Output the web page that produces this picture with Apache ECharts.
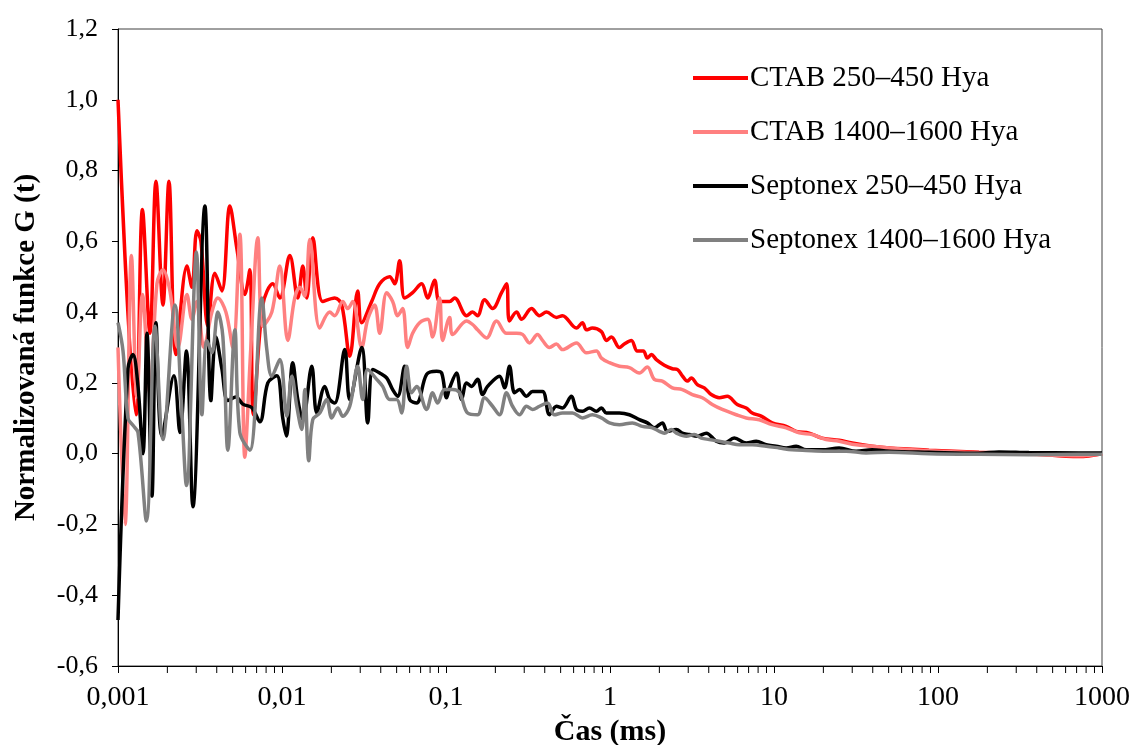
<!DOCTYPE html>
<html><head><meta charset="utf-8">
<script src="https://cdn.jsdelivr.net/npm/echarts@6/dist/echarts.min.js"></script>
<style>html,body{margin:0;padding:0;background:#fff}#c{width:1134px;height:745px}</style>
</head><body><div id="c"></div><script>
const seriesNames = ['CTAB 250–450 Hya', 'CTAB 1400–1600 Hya', 'Septonex 250–450 Hya', 'Septonex 1400–1600 Hya'];
const seriesColors = ['#ff0000', '#ff8080', '#000000', '#808080'];

// [time (ms), G(t)]
const ctab250 = [[0.001,1.00],[0.001287,0.11],[0.00141,0.69],[0.001566,0.34],[0.001704,0.77],[0.00188,0.42],[0.002044,0.77],[0.002256,0.28],[0.002633,0.53],[0.002823,0.47],[0.003028,0.63],[0.003203,0.60],[0.003533,0.36],[0.003898,0.51],[0.004299,0.46],[0.004809,0.70],[0.005305,0.58],[0.005935,0.45],[0.006366,0.52],[0.006686,0.11],[0.00764,0.42],[0.00879,0.48],[0.009697,0.44],[0.01116,0.56],[0.01248,0.44],[0.01339,0.53],[0.01416,0.44],[0.0154,0.61],[0.01772,0.43],[0.02097,0.44],[0.02313,0.42],[0.02589,0.275],[0.02895,0.46],[0.03062,0.37],[0.03523,0.43],[0.03942,0.48],[0.04534,0.50],[0.04863,0.48],[0.05217,0.545],[0.05595,0.44],[0.0626,0.455],[0.07102,0.48],[0.07726,0.44],[0.08522,0.49],[0.09142,0.43],[0.1052,0.43],[0.1129,0.44],[0.1335,0.39],[0.1452,0.40],[0.1558,0.39],[0.1719,0.435],[0.1923,0.41],[0.2181,0.455],[0.234,0.48],[0.244,0.375],[0.2692,0.40],[0.2887,0.38],[0.3322,0.41],[0.3716,0.39],[0.4099,0.40],[0.4716,0.385],[0.513,0.39],[0.6243,0.355],[0.6791,0.37],[0.7183,0.35],[0.7813,0.355],[0.8865,0.345],[0.9508,0.32],[1.020,0.33],[1.141,0.30],[1.223,0.31],[1.350,0.32],[1.467,0.29],[1.596,0.29],[1.690,0.27],[1.787,0.28],[1.917,0.266],[2.144,0.25],[2.399,0.24],[2.574,0.238],[2.760,0.22],[2.961,0.205],[3.132,0.214],[3.407,0.195],[3.758,0.186],[4.144,0.167],[4.637,0.158],[5.188,0.162],[5.968,0.139],[6.771,0.129],[7.366,0.115],[8.356,0.106],[9.751,0.087],[11.87,0.077],[13.65,0.063],[16.39,0.058],[19.66,0.044],[24.96,0.038],[29.94,0.030],[39.64,0.021],[50.3,0.016],[88.15,0.01],[177.7,0.004],[358.3,0.0],[722.3,-0.008],[1000,0.0]];

const ctab1400 = [[0.001,0.30],[0.001104,-0.20],[0.001208,0.56],[0.001305,0.16],[0.00141,0.45],[0.001566,0.17],[0.001728,0.48],[0.00188,0.52],[0.002073,0.46],[0.00232,0.30],[0.002633,0.45],[0.002823,0.38],[0.003028,0.43],[0.00334,0.30],[0.003737,0.40],[0.004064,0.44],[0.004548,0.40],[0.005016,0.30],[0.005533,0.62],[0.005935,-0.01],[0.006456,0.30],[0.007122,0.61],[0.00764,0.36],[0.008667,0.40],[0.009697,0.53],[0.01085,0.32],[0.01196,0.44],[0.01283,0.47],[0.01377,0.445],[0.01477,0.605],[0.01699,0.355],[0.01955,0.40],[0.02097,0.39],[0.02346,0.43],[0.02517,0.41],[0.02699,0.43],[0.03062,0.30],[0.03331,0.38],[0.03674,0.42],[0.03942,0.34],[0.04347,0.455],[0.04729,0.43],[0.05073,0.39],[0.05441,0.41],[0.05836,0.30],[0.0626,0.34],[0.06906,0.37],[0.07726,0.38],[0.08287,0.33],[0.09142,0.44],[0.09535,0.32],[0.1052,0.385],[0.1097,0.337],[0.1335,0.375],[0.1452,0.365],[0.1558,0.35],[0.1767,0.327],[0.2033,0.375],[0.234,0.34],[0.2692,0.34],[0.2928,0.337],[0.323,0.313],[0.3613,0.337],[0.3876,0.32],[0.4275,0.30],[0.4716,0.31],[0.513,0.294],[0.6243,0.313],[0.7183,0.285],[0.8264,0.29],[0.8865,0.27],[0.9917,0.257],[1.141,0.247],[1.313,0.243],[1.510,0.228],[1.690,0.245],[1.863,0.21],[2.085,0.205],[2.399,0.186],[2.760,0.181],[3.176,0.167],[3.654,0.158],[4.203,0.139],[4.836,0.125],[5.885,0.110],[6.771,0.101],[8.126,0.096],[9.751,0.082],[11.87,0.073],[14.24,0.059],[17.09,0.054],[20.79,0.040],[24.96,0.035],[31.67,0.025],[39.64,0.021],[50.3,0.016],[88.15,0.008],[177.7,0.002],[358.3,-0.002],[722.3,-0.006],[1000,0.0]];

const septonex250 = [[0.001,-0.47],[0.00115,0.24],[0.001234,0.28],[0.001324,0.19],[0.00142,0.0],[0.001502,0.34],[0.001611,-0.12],[0.001704,0.37],[0.001853,0.05],[0.002194,0.22],[0.002386,0.06],[0.002614,0.29],[0.002863,-0.15],[0.003388,0.70],[0.003685,0.15],[0.003953,0.33],[0.004299,0.24],[0.004676,0.15],[0.005232,0.16],[0.005771,0.14],[0.006547,0.13],[0.007325,0.09],[0.008194,0.20],[0.009297,0.22],[0.01011,0.10],[0.01062,0.05],[0.01163,0.257],[0.01248,0.153],[0.01339,0.096],[0.01519,0.247],[0.01629,0.115],[0.01822,0.19],[0.01955,0.153],[0.02097,0.143],[0.02413,0.294],[0.02589,0.153],[0.03062,0.30],[0.03331,0.087],[0.03573,0.238],[0.03942,0.228],[0.04347,0.214],[0.04729,0.181],[0.05073,0.162],[0.05595,0.247],[0.06002,0.153],[0.06622,0.143],[0.07618,0.224],[0.08765,0.233],[0.09403,0.228],[0.1008,0.158],[0.1052,0.186],[0.116,0.228],[0.1245,0.153],[0.1335,0.20],[0.1432,0.19],[0.1558,0.21],[0.1671,0.167],[0.1792,0.19],[0.212,0.219],[0.2275,0.186],[0.244,0.247],[0.2618,0.172],[0.2807,0.181],[0.3097,0.162],[0.3369,0.176],[0.3876,0.176],[0.4275,0.11],[0.4716,0.134],[0.513,0.129],[0.582,0.162],[0.6243,0.125],[0.6791,0.12],[0.7491,0.129],[0.8264,0.12],[0.8865,0.129],[0.9508,0.115],[1.141,0.115],[1.313,0.11],[1.510,0.096],[1.690,0.087],[1.863,0.073],[2.085,0.087],[2.237,0.063],[2.538,0.068],[2.760,0.058],[3.045,0.054],[3.407,0.049],[3.865,0.058],[4.446,0.035],[4.973,0.030],[5.722,0.044],[6.771,0.030],[7.791,0.035],[8.964,0.025],[10.31,0.021],[11.87,0.016],[13.65,0.021],[15.71,0.011],[19.66,0.011],[24.96,0.016],[31.67,0.007],[39.64,0.011],[50.3,0.007],[88.15,0.004],[177.7,0.001],[235.3,0.005],[358.3,0.003],[722.3,0.002],[1000,0.002]];

const septonex1400 = [[0.001,0.37],[0.001073,0.29],[0.00115,0.10],[0.001234,0.08],[0.001324,0.06],[0.001491,-0.19],[0.001681,0.36],[0.00188,0.04],[0.002225,0.42],[0.002437,0.14],[0.002614,-0.09],[0.003007,0.57],[0.003248,0.11],[0.003484,0.32],[0.003737,0.285],[0.004064,0.40],[0.00436,0.33],[0.004676,0.01],[0.005159,0.35],[0.005533,0.06],[0.006366,0.01],[0.007533,0.44],[0.008081,0.294],[0.008667,0.219],[0.009697,0.266],[0.0107,0.106],[0.01148,0.219],[0.0123,0.134],[0.0132,0.068],[0.01377,0.181],[0.01456,-0.02],[0.0154,0.096],[0.01699,0.115],[0.01874,0.153],[0.02011,0.101],[0.02187,0.129],[0.02346,0.106],[0.02589,0.134],[0.02895,0.247],[0.03106,0.153],[0.03331,0.238],[0.03779,0.21],[0.0411,0.19],[0.04534,0.153],[0.05002,0.153],[0.05366,0.115],[0.05755,0.247],[0.06173,0.172],[0.06622,0.19],[0.07618,0.125],[0.08287,0.172],[0.08889,0.143],[0.09805,0.181],[0.1097,0.181],[0.121,0.172],[0.1354,0.115],[0.1558,0.11],[0.1719,0.158],[0.1923,0.134],[0.212,0.11],[0.234,0.172],[0.2545,0.134],[0.2807,0.11],[0.3097,0.134],[0.3369,0.125],[0.3716,0.134],[0.4156,0.143],[0.4586,0.11],[0.513,0.115],[0.5902,0.115],[0.6791,0.101],[0.7813,0.11],[0.8865,0.101],[0.9917,0.087],[1.141,0.082],[1.369,0.087],[1.575,0.077],[1.812,0.073],[2.000,0.063],[2.144,0.058],[2.366,0.068],[2.538,0.058],[2.920,0.049],[3.266,0.054],[3.603,0.044],[4.031,0.040],[4.637,0.035],[5.335,0.030],[6.138,0.025],[7.366,0.025],[8.964,0.021],[10.76,0.016],[12.91,0.011],[15.71,0.009],[20.79,0.007],[27.53,0.007],[36.44,0.002],[50.3,0.004],[88.15,0.0],[177.7,-0.002],[358.3,-0.003],[722.3,-0.002],[1000,-0.002]];

const xTickLabels = ['0,001', '0,01', '0,1', '1', '10', '100', '1000'];
const xDecades = [0.001, 0.01, 0.1, 1, 10, 100];
const minorMultipliers = [2, 3, 4, 5, 6, 7, 8, 9];
const X_MIN = 0.001, X_MAX = 1000;
const Y_MIN = -0.6, Y_MAX = 1.2, Y_STEP = 0.2;

const FONT = 'Liberation Serif';
const minorTickData = [];
xDecades.forEach(d => minorMultipliers.forEach(m => minorTickData.push([d * m, Y_MIN])));

const allData = [ctab250, ctab1400, septonex250, septonex1400];

const chart = echarts.init(document.getElementById('c'), null, {renderer: 'canvas'});
const lineSeries = allData.map((d, i) => ({
  name: seriesNames[i],
  type: 'line',
  data: d,
  smooth: 0.35,
  showSymbol: false,
  symbol: 'none',
  lineStyle: {color: seriesColors[i], width: 3.5},
  itemStyle: {color: seriesColors[i]},
  z: 2 + i,
  animation: false
}));

const option = {
  animation: false,
  backgroundColor: '#ffffff',
  grid: {left: 118, right: 32, top: 29, bottom: 79, containLabel: false, outerBoundsMode: 'none', show: true, borderColor: '#404040', borderWidth: 1, backgroundColor: 'transparent'},
  legend: {
    data: seriesNames,
    orient: 'vertical',
    left: 688,
    top: 57,
    icon: 'rect',
    itemWidth: 55,
    itemHeight: 4,
    itemGap: 22,
    selectedMode: false,
    textStyle: {fontFamily: FONT, fontSize: 29, color: '#000', lineHeight: 32, padding: [0, 0, 0, -3]}
  },
  xAxis: {
    type: 'log',
    logBase: 10,
    min: X_MIN,
    max: X_MAX,
    splitNumber: 6,
    axisLine: {show: true, onZero: false, lineStyle: {color: '#000', width: 1}},
    axisTick: {show: true, inside: false, length: 7, lineStyle: {color: '#000', width: 1}},
    splitLine: {show: false},
    minorTick: {show: false},
    axisLabel: {
      fontFamily: FONT, fontSize: 28, color: '#000', margin: 18,
      formatter: v => xTickLabels[Math.round(Math.log10(v)) + 3] || ''
    },
    name: 'Čas (ms)',
    nameLocation: 'middle',
    nameGap: 50,
    nameTextStyle: {fontFamily: FONT, fontWeight: 'bold', fontSize: 30, color: '#000'}
  },
  yAxis: {
    type: 'value',
    min: Y_MIN,
    max: Y_MAX,
    interval: Y_STEP,
    axisLine: {show: true, onZero: false, lineStyle: {color: '#000', width: 1}},
    axisTick: {show: true, inside: false, length: 6, lineStyle: {color: '#000', width: 1}},
    splitLine: {show: false},
    axisLabel: {
      fontFamily: FONT, fontSize: 26, color: '#000', margin: 20,
      formatter: v => v.toFixed(1).replace('.', ',')
    },
    name: 'Normalizovaná funkce G (t)',
    nameLocation: 'middle',
    nameGap: 77,
    nameTextStyle: {fontFamily: FONT, fontWeight: 'bold', fontSize: 29, color: '#000'}
  },
  series: lineSeries.concat([{
    type: 'custom',
    name: 'minorTicks',
    silent: true,
    clip: false,
    data: minorTickData,
    renderItem: (params, api) => {
      const p = api.coord([api.value(0), api.value(1)]);
      return {type: 'line', shape: {x1: p[0], y1: p[1], x2: p[0], y2: p[1] + 7}, style: {stroke: '#000', lineWidth: 1}};
    },
    z: 10
  }])
};
chart.setOption(option);
</script></body></html>
